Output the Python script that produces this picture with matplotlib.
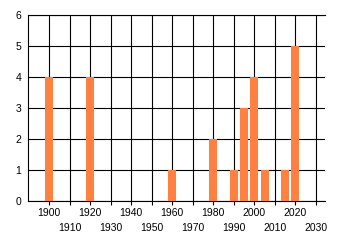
import matplotlib
matplotlib.use("Agg")
import matplotlib.pyplot as plt

# data
years = [1900, 1920, 1960, 1980, 1990, 1995, 2000, 2005, 2015, 2020]
counts = [4, 4, 1, 2, 1, 3, 4, 1, 1, 5]
row1_ticks = [1900, 1920, 1940, 1960, 1980, 2000, 2020]
row2_ticks = [1910, 1930, 1950, 1970, 1990, 2010, 2030]
y_ticks = [0, 1, 2, 3, 4, 5, 6]

plt.rcParams['font.family'] = ['Liberation Sans', 'DejaVu Sans']

fig = plt.figure(figsize=(3.4, 2.45), dpi=100)
ax = fig.add_axes([28 / 340, 44 / 245, 297 / 340, 186 / 245])

ax.bar(years, counts, width=3.9, color='#ff8040', zorder=3)

ax.set_xlim(1889.6, 2034.5)
ax.set_ylim(0, 6)

ax.set_xticks(row1_ticks)
ax.set_xticklabels([str(t) for t in row1_ticks])
ax.set_xticks(row2_ticks, minor=True)
ax.set_xticklabels([str(t) for t in row2_ticks], minor=True)
ax.set_yticks(y_ticks)

ax.tick_params(axis='x', which='both', length=3, width=0.8, color='black',
               labelsize=7.5, labelcolor='black')
ax.tick_params(axis='x', which='major', pad=2)
ax.tick_params(axis='x', which='minor', pad=13)
ax.tick_params(axis='y', length=0, pad=5, labelsize=7.5, labelcolor='black')

ax.grid(True, which='both', axis='x', color='black', linewidth=0.8)
ax.grid(True, axis='y', color='black', linewidth=0.8)

for side in ['right']:
    ax.spines[side].set_visible(False)
for side in ['left', 'bottom', 'top']:
    ax.spines[side].set_linewidth(0.8)
    ax.spines[side].set_color('black')

fig.savefig('out.png', dpi=100)
